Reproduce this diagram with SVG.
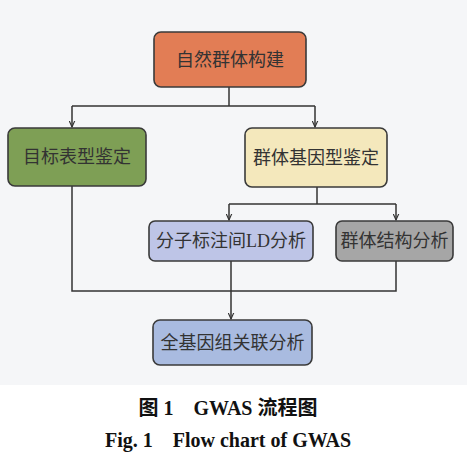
<svg xmlns="http://www.w3.org/2000/svg" width="467" height="452" viewBox="0 0 467 452">
<defs>
<marker id="arr" viewBox="0 0 10 10" refX="9" refY="5" markerWidth="7" markerHeight="7" markerUnits="userSpaceOnUse" orient="auto">
<path d="M0,1 L9,5 L0,9" fill="none" stroke="#333" stroke-width="1.6"/>
</marker>
<style>
.box{stroke:#3a3a3a;stroke-width:1.6}
.lbl{font-family:"Liberation Serif","Noto Sans CJK SC",serif;font-size:18px;fill:#333;text-anchor:middle;dominant-baseline:central}
.ln{fill:none;stroke:#333;stroke-width:1.5}
.cap{font-family:"Liberation Serif","Noto Sans CJK SC",serif;font-weight:bold;font-size:20px;fill:#111;text-anchor:middle}
</style>
</defs>
<rect width="467" height="452" fill="#f5f6f8"/>
<rect y="385" width="467" height="67" fill="#ffffff"/>
<g id="connectors">
<path class="ln" d="M229,87 V106"/>
<path class="ln" d="M72,106 H315"/>
<path class="ln" d="M72,106 V127" marker-end="url(#arr)"/>
<path class="ln" d="M315,106 V127" marker-end="url(#arr)"/>
<path class="ln" d="M317,187 V204"/>
<path class="ln" d="M229,204 H396"/>
<path class="ln" d="M229,204 V220" marker-end="url(#arr)"/>
<path class="ln" d="M396,204 V220" marker-end="url(#arr)"/>
<path class="ln" d="M72,186 V291 H396 V261"/>
<path class="ln" d="M231,261 V319" marker-end="url(#arr)"/>
</g>
<g id="n1">
<rect class="box" x="154" y="32" width="152" height="55" rx="7" fill="#e27d55"/>
<text class="lbl" x="230" y="59.5">自然群体构建</text>
</g>
<g id="n2">
<rect class="box" x="8" y="128" width="138" height="58" rx="7" fill="#7e9f55"/>
<text class="lbl" x="77" y="157">目标表型鉴定</text>
</g>
<g id="n3">
<rect class="box" x="245" y="128" width="142" height="59" rx="7" fill="#f4e8bc"/>
<text class="lbl" x="316" y="157.5">群体基因型鉴定</text>
</g>
<g id="n4">
<rect class="box" x="149" y="221" width="164" height="40" rx="6" fill="#bec5e7"/>
<text class="lbl" x="231" y="241">分子标注间LD分析</text>
</g>
<g id="n5">
<rect class="box" x="336" y="221" width="117" height="40" rx="6" fill="#a6a6a6"/>
<text class="lbl" x="394.5" y="241">群体结构分析</text>
</g>
<g id="n6">
<rect class="box" x="153" y="320" width="159" height="45" rx="7" fill="#a9bbe0"/>
<text class="lbl" x="232.5" y="342.5">全基因组关联分析</text>
</g>
<text class="cap" x="228" y="415" xml:space="preserve">图 1　GWAS 流程图</text>
<text class="cap" x="228" y="447" xml:space="preserve">Fig. 1　Flow chart of GWAS</text>
</svg>
